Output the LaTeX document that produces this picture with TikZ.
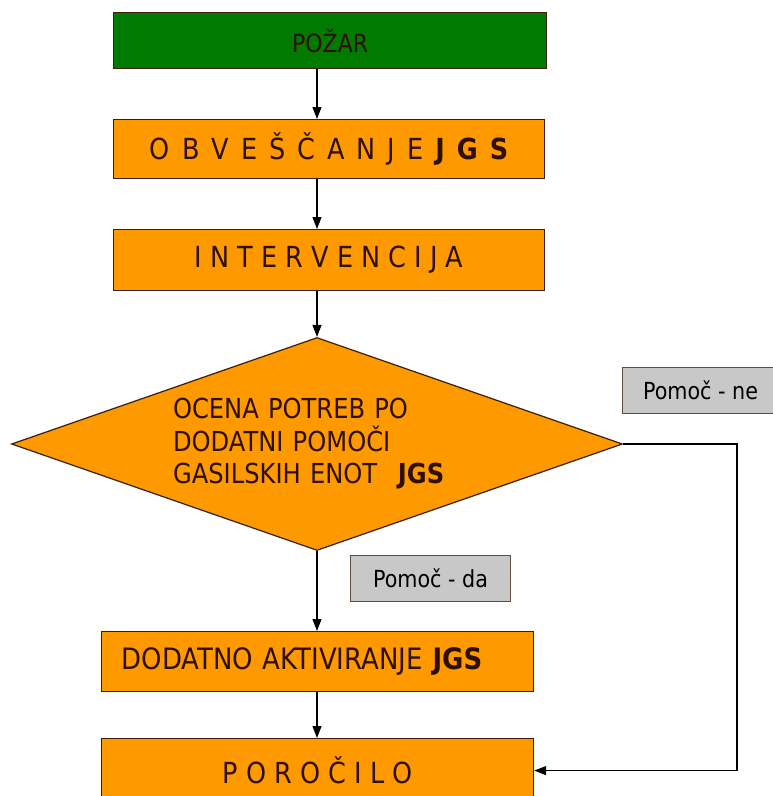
\documentclass[tikz,border=0pt]{standalone}
\usepackage{fontspec}
\setmainfont[FakeStretch=0.88]{DejaVu Sans}
\usetikzlibrary{arrows.meta,positioning,shapes.geometric}
\definecolor{pgreen}{HTML}{007A00}
\definecolor{porange}{HTML}{FF9900}
\definecolor{pgray}{HTML}{C8C8C8}
\definecolor{pline}{HTML}{3A1E0E}
\definecolor{ptext}{HTML}{2E1000}

\tikzset{
  box/.style={draw=pline, line width=1.2pt, fill=porange, text=ptext, inner sep=0pt,
    font=\fontsize{29}{34}\selectfont},
  notebox/.style={draw=pline!80, line width=1pt, fill=pgray, text=black, inner sep=0pt,
    font=\fontsize{23.5}{28}\selectfont},
  arr/.style={-{Triangle[length=12pt,width=9pt]}, line width=1.1pt, draw=black}
}

\begin{document}
\begin{tikzpicture}[x=1pt,y=-1pt]
  \useasboundingbox (0,0) rectangle (772,796);

  % main column
  \node[box, fill=pgreen, anchor=north west, minimum width=433pt, minimum height=56pt,
    font=\fontsize{25}{30}\selectfont] (pozar) at (113,12) {POŽAR};
  \node[box, anchor=north west, minimum width=431pt, minimum height=59pt] (obvescanje) at (113,119)
    {\spaceskip=12pt O B V E Š Č A N J E \textbf{J G S}};
  \node[box, anchor=north west, minimum width=431pt, minimum height=61pt] (intervencija) at (113,229)
    {I N T E R V E N C I J A};

  \node[box, diamond, aspect=2.87, minimum width=611pt, minimum height=213pt,
    text width=288pt, align=left, font=\fontsize{27.5}{32.5}\selectfont] (ocena) at (317,444)
    {OCENA POTREB PO\\ DODATNI POMOČI\\ GASILSKIH ENOT\hspace{0.75em}\textbf{JGS}};

  \node[box, anchor=north west, minimum width=432pt, minimum height=60pt, text width=392pt,
    inner xsep=20pt, align=left, font=\fontsize{29.5}{34}\selectfont] (dodatno) at (101,631)
    {DODATNO AKTIVIRANJE \textbf{JGS}};
  \node[box, anchor=north west, minimum width=432pt, minimum height=64pt] (porocilo) at (101,738)
    {P O R O Č I L O};

  % answers
  \node[notebox, anchor=north west, minimum width=156pt, minimum height=46pt] (pomocne) at (622,367)
    {Pomoč - ne};
  \node[notebox, anchor=north west, minimum width=160pt, minimum height=46pt] (pomocda) at (350,555)
    {Pomoč - da};

  % arrows
  \draw[arr] (pozar.south -| ocena.north) -- (obvescanje.north -| ocena.north);
  \draw[arr] (obvescanje.south -| ocena.north) -- (intervencija.north -| ocena.north);
  \draw[arr] (intervencija.south -| ocena.north) -- (ocena.north);
  \draw[arr] (ocena.south) -- (dodatno.north -| ocena.south);
  \draw[arr] (dodatno.south -| ocena.south) -- (porocilo.north -| ocena.south);
  \coordinate (bend) at (737,444);
  \draw[arr] (ocena.east) -- (bend) |- (porocilo.east);
\end{tikzpicture}
\end{document}
